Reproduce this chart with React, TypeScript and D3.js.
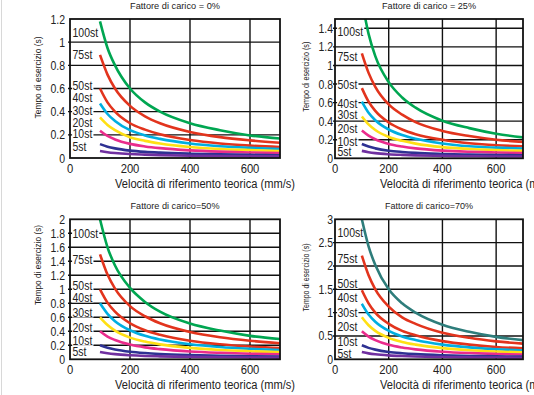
import { useEffect, useRef } from 'react';
import * as d3 from 'd3';

// ─── Data ───────────────────────────────────────────────────

const speeds = [100, 125, 150, 200, 250, 300, 400, 500, 600, 700];
const strokes = ['100st', '75st', '50st', '40st', '30st', '20st', '10st', '5st'];
const xTicks = [0, 200, 400, 600];

const titles = [
  'Fattore di carico = 0%',
  'Fattore di carico = 25%',
  'Fattore di carico=50%',
  'Fattore di carico=70%',
];

const yMaxes = [1.2, 1.5, 2, 3];
const yTicks0 = [0, 0.2, 0.4, 0.6, 0.8, 1, 1.2];
const yTicks25 = [0, 0.2, 0.4, 0.6, 0.8, 1, 1.2, 1.4];
const yTicks50 = [0, 0.2, 0.4, 0.6, 0.8, 1, 1.2, 1.4, 1.6, 1.8, 2];
const yTicks70 = [0, 0.5, 1, 1.5, 2, 2.5, 3];

// tempo di esercizio (s) per stroke, one row per curve, read at `speeds`
const carico0 = [
  [1.18, 0.95, 0.8, 0.6, 0.48, 0.4, 0.3, 0.24, 0.195, 0.168],
  [0.89, 0.72, 0.6, 0.45, 0.36, 0.3, 0.225, 0.18, 0.152, 0.132],
  [0.6, 0.48, 0.4, 0.3, 0.245, 0.205, 0.155, 0.125, 0.107, 0.095],
  [0.47, 0.38, 0.32, 0.24, 0.195, 0.165, 0.125, 0.102, 0.088, 0.078],
  [0.35, 0.285, 0.24, 0.18, 0.148, 0.125, 0.095, 0.078, 0.068, 0.06],
  [0.236, 0.19, 0.16, 0.122, 0.1, 0.085, 0.066, 0.055, 0.048, 0.043],
  [0.12, 0.098, 0.083, 0.064, 0.053, 0.046, 0.037, 0.031, 0.027, 0.024],
  [0.06, 0.05, 0.043, 0.034, 0.029, 0.025, 0.02, 0.017, 0.015, 0.014],
];

const carico25 = [
  [1.7, 1.34, 1.1, 0.82, 0.655, 0.545, 0.405, 0.325, 0.265, 0.225],
  [1.13, 0.92, 0.77, 0.58, 0.47, 0.39, 0.295, 0.24, 0.2, 0.175],
  [0.756, 0.61, 0.51, 0.385, 0.31, 0.26, 0.2, 0.162, 0.14, 0.13],
  [0.61, 0.49, 0.41, 0.31, 0.25, 0.21, 0.16, 0.13, 0.115, 0.105],
  [0.45, 0.365, 0.305, 0.23, 0.188, 0.158, 0.12, 0.1, 0.088, 0.08],
  [0.3, 0.245, 0.205, 0.155, 0.127, 0.107, 0.083, 0.07, 0.062, 0.057],
  [0.154, 0.126, 0.107, 0.082, 0.068, 0.058, 0.047, 0.04, 0.036, 0.033],
  [0.08, 0.066, 0.056, 0.044, 0.037, 0.032, 0.026, 0.022, 0.02, 0.019],
];

const carico50 = [
  [2.0, 1.6, 1.34, 1.02, 0.82, 0.68, 0.51, 0.41, 0.335, 0.29],
  [1.5, 1.21, 1.01, 0.76, 0.615, 0.515, 0.39, 0.315, 0.265, 0.23],
  [1.0, 0.81, 0.68, 0.515, 0.415, 0.35, 0.265, 0.215, 0.182, 0.16],
  [0.8, 0.65, 0.545, 0.415, 0.335, 0.282, 0.215, 0.175, 0.15, 0.132],
  [0.6, 0.49, 0.41, 0.31, 0.253, 0.213, 0.163, 0.133, 0.115, 0.102],
  [0.4, 0.325, 0.275, 0.21, 0.17, 0.145, 0.112, 0.093, 0.08, 0.072],
  [0.2, 0.165, 0.14, 0.108, 0.089, 0.076, 0.06, 0.05, 0.044, 0.04],
  [0.105, 0.087, 0.074, 0.058, 0.048, 0.042, 0.034, 0.029, 0.026, 0.024],
];

const carico70 = [
  [3.0, 2.42, 2.02, 1.5, 1.2, 1.0, 0.74, 0.59, 0.48, 0.41],
  [2.22, 1.8, 1.5, 1.13, 0.9, 0.76, 0.57, 0.46, 0.385, 0.335],
  [1.48, 1.2, 1.0, 0.76, 0.61, 0.515, 0.39, 0.315, 0.265, 0.235],
  [1.19, 0.96, 0.805, 0.61, 0.49, 0.415, 0.315, 0.255, 0.215, 0.19],
  [0.9, 0.73, 0.61, 0.46, 0.373, 0.315, 0.24, 0.195, 0.167, 0.148],
  [0.6, 0.487, 0.41, 0.31, 0.252, 0.213, 0.163, 0.134, 0.115, 0.103],
  [0.3, 0.245, 0.207, 0.158, 0.13, 0.11, 0.086, 0.072, 0.063, 0.057],
  [0.155, 0.127, 0.108, 0.084, 0.07, 0.06, 0.048, 0.041, 0.037, 0.034],
];

// where each stroke label sits (in data units of the y axis)
const labelY0 = [1.08, 0.89, 0.63, 0.525, 0.41, 0.31, 0.215, 0.098];
const labelY25 = [1.37, 1.1, 0.8, 0.595, 0.476, 0.32, 0.18, 0.07];
const labelY50 = [1.8, 1.42, 1.06, 0.886, 0.67, 0.457, 0.266, 0.114];
const labelY70 = [2.72, 2.16, 1.62, 1.33, 1.01, 0.7, 0.386, 0.13];

// ─── Layout / style ─────────────────────────────────────────

const FONT = "'Liberation Sans', Arial, sans-serif";
const W = 534;
const H = 395;
const SQUEEZE = 0.84; // Helvetica Condensed look-alike

const COLORS = ['#00a651', '#e2341d', '#e2341d', '#00aee0', '#ffe014', '#ea2c8c', '#2e3192', '#7030a0'];
const TEAL = '#2e7d7b';
const INK = '#222';

const panels = [
  { left: 70, right: 280, top: 19, bottom: 158, data: carico0, ticks: yTicks0, labels: labelY0, tickGap: 5,
    yTitle: { x: 37.7, y: 77.5, len: 82, size: 9.5 }, titleLen: 90 },
  { left: 335, right: 523, top: 19, bottom: 158.3, data: carico25, ticks: yTicks25, labels: labelY25, tickGap: 2,
    yTitle: { x: 306.5, y: 76.7, len: 70, size: 8.5 }, titleLen: 94 },
  { left: 70, right: 280, top: 219.3, bottom: 359.3, data: carico50, ticks: yTicks50, labels: labelY50, tickGap: 5,
    yTitle: { x: 37.7, y: 265, len: 80, size: 9.5 }, titleLen: 89 },
  { left: 335, right: 523, top: 219.3, bottom: 359.3, data: carico70, ticks: yTicks70, labels: labelY70, tickGap: 2,
    yTitle: { x: 306, y: 277.5, len: 68, size: 8.5 }, titleLen: 88 },
];

const fmt = (v: number) => String(+v.toFixed(1));

export default function App() {
  const svgRef = useRef<SVGSVGElement>(null);

  useEffect(() => {
    if (!svgRef.current) return;
    const svg = d3.select(svgRef.current);
    svg.selectAll('*').remove();

    svg.append('rect').attr('width', W).attr('height', H).attr('fill', '#fff');
    svg.append('line')
      .attr('x1', 1.5).attr('x2', 1.5).attr('y1', 0).attr('y2', H)
      .attr('stroke', '#d8d8d8').attr('stroke-width', 1);

    const defs = svg.append('defs');

    panels.forEach((p, pi) => {
      const x = d3.scaleLinear().domain([0, 700]).range([p.left, p.right]);
      const y = d3.scaleLinear().domain([0, yMaxes[pi]]).range([p.bottom, p.top]);
      const g = svg.append('g').attr('font-family', FONT).attr('fill', INK);

      defs.append('clipPath').attr('id', `clip${pi}`)
        .append('rect')
        .attr('x', p.left).attr('y', p.top)
        .attr('width', p.right - p.left).attr('height', p.bottom - p.top);

      // Grid
      g.append('g').selectAll('line')
        .data(p.ticks.filter((t) => t > 0 && t < yMaxes[pi]))
        .join('line')
        .attr('x1', p.left - 2).attr('x2', p.right)
        .attr('y1', (d) => y(d)).attr('y2', (d) => y(d))
        .attr('stroke', '#111').attr('stroke-width', 1.4);

      g.append('g').selectAll('line')
        .data(xTicks.filter((t) => t > 0))
        .join('line')
        .attr('x1', (d) => x(d)).attr('x2', (d) => x(d))
        .attr('y1', p.top).attr('y2', p.bottom)
        .attr('stroke', '#111').attr('stroke-width', 1.4);

      // Tick labels (squeezed horizontally)
      g.append('g').selectAll('text')
        .data(p.ticks)
        .join('text')
        .attr('transform', (d) => `translate(${p.left - p.tickGap},${y(d) + 4.5}) scale(${SQUEEZE},1)`)
        .attr('text-anchor', 'end')
        .attr('font-size', 12.5)
        .text((d) => fmt(d));

      g.append('g').selectAll('text')
        .data(xTicks)
        .join('text')
        .attr('transform', (d) => `translate(${x(d)},${p.bottom + 14.5}) scale(0.9,1)`)
        .attr('text-anchor', 'middle')
        .attr('font-size', 12.5)
        .text((d) => String(d));

      // Stroke labels with white boxes over the grid
      strokes.forEach((s, i) => {
        const lg = g.append('g')
          .attr('transform', `translate(${p.left + 2.5},${y(p.labels[i]) + 4.5}) scale(${SQUEEZE},1)`);
        const bg = lg.append('rect').attr('fill', '#fff');
        const t = lg.append('text').attr('font-size', 12.5).text(s);
        const bb = (t.node() as SVGTextElement).getBBox();
        bg.attr('x', bb.x - 0.5).attr('y', bb.y + 2)
          .attr('width', bb.width + 1).attr('height', bb.height - 3.5);
      });

      // Curves
      const line = d3.line<number>()
        .x((_, i) => x(speeds[i]))
        .y((d) => y(d))
        .curve(d3.curveMonotoneX);

      g.append('g').attr('clip-path', `url(#clip${pi})`)
        .selectAll('path')
        .data(p.data)
        .join('path')
        .attr('fill', 'none')
        .attr('stroke', (_, i) => (i === 0 && pi === 3 ? TEAL : COLORS[i]))
        .attr('stroke-width', 2.6)
        .attr('d', (d) => line(d));

      // Frame
      g.append('rect')
        .attr('x', p.left).attr('y', p.top)
        .attr('width', p.right - p.left).attr('height', p.bottom - p.top)
        .attr('fill', 'none').attr('stroke', '#111').attr('stroke-width', 1.8);

      // Titles
      const cx = (p.left + p.right) / 2;
      g.append('text')
        .attr('x', cx - p.titleLen / 2).attr('y', p.top - 10)
        .attr('font-size', 8.5)
        .attr('textLength', p.titleLen)
        .attr('lengthAdjust', 'spacingAndGlyphs')
        .text(titles[pi]);

      g.append('text')
        .attr('x', p.left + 45).attr('y', p.bottom + 29.5)
        .attr('font-size', 12)
        .attr('textLength', 180)
        .attr('lengthAdjust', 'spacingAndGlyphs')
        .text('Velocità di riferimento teorica (mm/s)');

      g.append('text')
        .attr('transform', `translate(${p.yTitle.x + p.yTitle.size * 0.35},${p.yTitle.y + p.yTitle.len / 2}) rotate(-90)`)
        .attr('font-size', p.yTitle.size)
        .attr('textLength', p.yTitle.len)
        .attr('lengthAdjust', 'spacingAndGlyphs')
        .text('Tempo di esercizio (s)');
    });
  }, []);

  return (
    <svg
      ref={svgRef}
      width={W}
      height={H}
      style={{ position: 'absolute', left: 0, top: 0, display: 'block' }}
    />
  );
}
